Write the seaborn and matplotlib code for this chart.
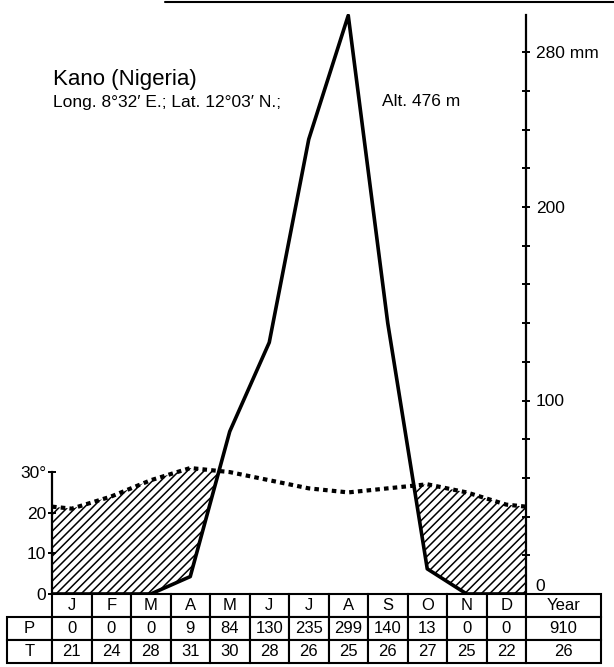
import numpy as np
import matplotlib.pyplot as plt
import seaborn as sns
from matplotlib.lines import Line2D

# =============
# 1. DATOS CLIMATICOS (Kano, Nigeria)
# ====
meses = ['J', 'F', 'M', 'A', 'M', 'J', 'J', 'A', 'S', 'O', 'N', 'D']
precip = [0, 0, 0, 9, 84, 130, 235, 299, 140, 13, 0, 0]      # mm
temp = [21, 24, 28, 31, 30, 28, 26, 25, 26, 27, 25, 22]       # grados C
precip_anual = 910
temp_anual = 26

ticks_temp = [0, 10, 20, 30]
etiq_temp = ['0', '10', '20', '30°']
ticks_precip = list(range(0, 281, 20))
etiq_precip = {0: '0', 100: '100', 200: '200', 280: '280 mm'}

# escala del diagrama original: 10 grados ~ 21 mm
esc_t = 2.1

# =============
# 2. ESTILO
# ====
sns.set_style('ticks', {'axes.edgecolor': 'black', 'xtick.color': 'black',
                        'ytick.color': 'black', 'text.color': 'black'})
plt.rcParams['font.family'] = ['Liberation Sans', 'DejaVu Sans']
plt.rcParams['hatch.linewidth'] = 1.1

W, H = 614, 667
fig = plt.figure(figsize=(W / 100, H / 100), dpi=100)
ax = fig.add_axes([52 / W, 73 / H, 474 / W, 580.5 / H])

# puntos a mitad de mes, extremos con la media dic/ene
x = np.arange(12) + 0.5
x_ext = np.concatenate([[0], x, [12]])
p_borde = (precip[0] + precip[-1]) / 2
p_ext = np.concatenate([[p_borde], precip, [p_borde]])
t_borde = (temp[0] + temp[-1]) / 2
t_ext = np.concatenate([[t_borde], temp, [t_borde]]) * esc_t

# periodo arido rayado
ax.fill_between(x_ext, p_ext, t_ext, where=t_ext >= p_ext, interpolate=True,
                facecolor='none', edgecolor='black', hatch='////', linewidth=0)

sns.lineplot(x=x_ext, y=p_ext, ax=ax, color='black', linewidth=2.6, sort=False)
sns.lineplot(x=x_ext, y=t_ext, ax=ax, color='black', linewidth=3.0, sort=False,
             linestyle=(0, (1.1, 1.0)))

ax.set_xlim(0, 12)
ax.set_ylim(0, 300)
ax.set_xticks([])
for s in ['top', 'bottom', 'right']:
    ax.spines[s].set_visible(False)
ax.spines['left'].set_bounds(0, 30 * esc_t)
ax.spines['left'].set_linewidth(1.6)
ax.set_yticks([t * esc_t for t in ticks_temp])
ax.set_yticklabels(etiq_temp)
ax.tick_params(axis='y', direction='inout', length=6, width=1.4, labelsize=12.5, pad=1)

# eje de precipitacion a la derecha
ax2 = ax.twinx()
ax2.set_ylim(0, 300)
for s in ['top', 'bottom', 'left']:
    ax2.spines[s].set_visible(False)
ax2.spines['right'].set_bounds(0, 299)
ax2.spines['right'].set_linewidth(1.6)
ax2.set_yticks(ticks_precip)
ax2.set_yticklabels([etiq_precip.get(v, '') for v in ticks_precip])
ax2.tick_params(axis='y', direction='inout', length=6, width=1.4, labelsize=12.5, pad=4)
ax2.get_yticklabels()[0].set_verticalalignment('bottom')

# =============
# 3. TABLA DE VALORES
# ====
ax_t = fig.add_axes([7 / W, 4 / H, 594 / W, 69 / H])
ax_t.axis('off')
celdas = [[''] + meses + ['Year'],
          ['P'] + [str(v) for v in precip] + [str(precip_anual)],
          ['T'] + [str(v) for v in temp] + [str(temp_anual)]]
anchos = np.array([45] + [39.5] * 12 + [75]) / 594
tabla = ax_t.table(cellText=celdas, colWidths=anchos, bbox=[0, 0, 1, 1], cellLoc='center')
tabla.auto_set_font_size(False)
tabla.set_fontsize(12)
for (r, c), celda in tabla.get_celld().items():
    celda.set_linewidth(1.5)
    celda.set_edgecolor('black')
    celda.PAD = 0.02
tabla[0, 0].visible_edges = ''

# =============
# 4. TEXTOS
# ====
fig.text(53 / W, 1 - 79 / H, 'Kano (Nigeria)', fontsize=16, va='center')
fig.text(53 / W, 1 - 102 / H, 'Long. 8°32′ E.; Lat. 12°03′ N.;', fontsize=12.5, va='center')
fig.text(382 / W, 1 - 102 / H, 'Alt. 476 m', fontsize=12.5, va='center')

# borde del escaneo en la parte superior
fig.add_artist(Line2D([165 / W, 1], [1 - 1.5 / H, 1 - 1.5 / H], color='black', lw=1.5))

fig.savefig('out.png', dpi=100)
